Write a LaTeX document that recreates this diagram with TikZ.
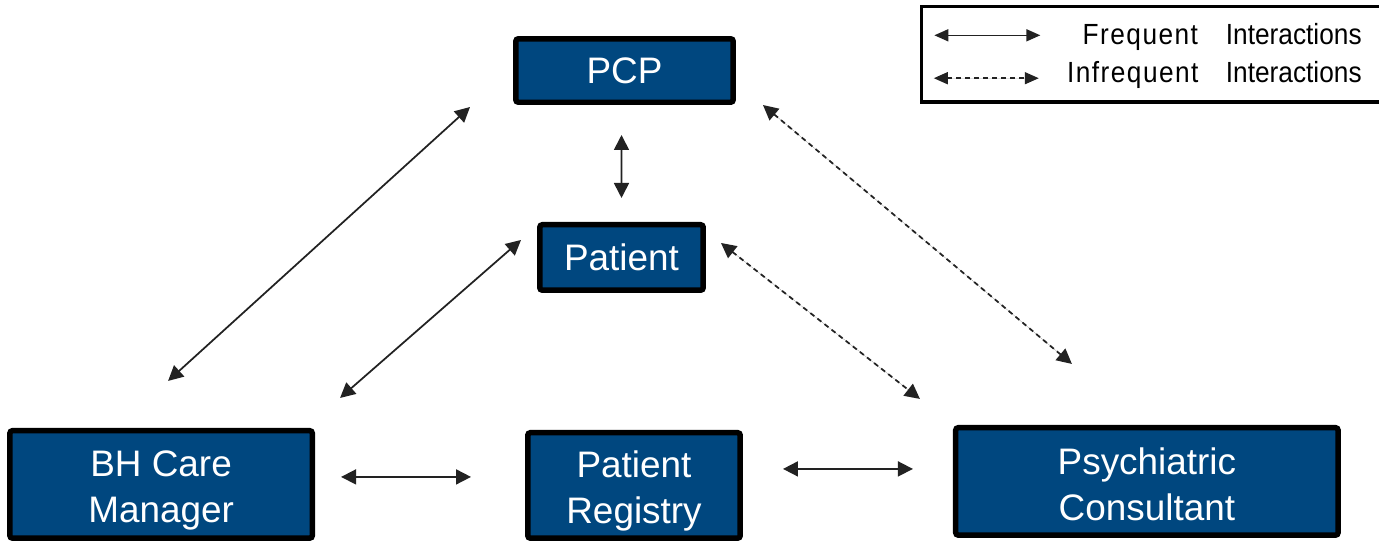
\documentclass[tikz,border=0pt]{standalone}
\usepackage{fontspec}
\setmainfont{Liberation Sans}
\newfontfamily\ketfont[FakeStretch=0.9]{Liberation Sans}
\newfontfamily\ketlebar[FakeStretch=0.9, LetterSpace=5]{Liberation Sans}
\usepackage{xcolor}
\usetikzlibrary{arrows.meta, positioning, calc}
\definecolor{biruTua}{RGB}{0,71,127}
\definecolor{hitam}{RGB}{34,34,34}

\begin{document}
\begin{tikzpicture}[
    x=0.02cm, y=-0.02cm,
    node distance=2.34cm and 4.2cm,
    kotak/.style={draw=black, fill=biruTua, line width=0.11cm, rounded corners=1.5pt,
                  align=center, text=white, inner sep=0pt, font=\fontsize{21}{26}\selectfont},
    panah/.style={{Triangle[length=0.3cm, width=0.3cm]}-{Triangle[length=0.3cm, width=0.3cm]},
                  line width=0.035cm, draw=hitam, fill=hitam},
    putus/.style={panah, dash pattern=on 0.1cm off 0.08cm},
    contoh/.style={{Triangle[length=0.28cm, width=0.24cm]}-{Triangle[length=0.28cm, width=0.24cm]},
                  line width=0.032cm, draw=hitam, fill=hitam},
    ket/.style={font=\ketfont\fontsize{16.6}{20}\selectfont, inner sep=0pt, anchor=base east}
  ]
    \useasboundingbox (0,0) rectangle (1379,542);

    % kotak peran
    \node[kotak, minimum width=4.35cm, minimum height=1.27cm] (pcp) at (624.5,70.5) {PCP};
    \node[kotak, minimum width=3.27cm, minimum height=1.31cm, below=of pcp, xshift=-0.06cm] (pasien) {Patient};
    \node[kotak, minimum width=4.25cm, minimum height=2.11cm, below=2.74cm of pasien, xshift=0.25cm] (registri) {\rule{0pt}{0.75cm}Patient\\Registry};
    \node[kotak, minimum width=6.05cm, minimum height=2.15cm, left=of registri, yshift=0.02cm] (bh) {\rule{0pt}{0.76cm}BH Care\\Manager};
    \node[kotak, minimum width=7.65cm, minimum height=2.15cm, right=of registri, yshift=0.08cm] (psikiater) {\rule{0pt}{0.65cm}Psychiatric\\Consultant};

    % interaksi
    \draw[panah] ([shift={(7,-47)}]bh.north) -- ([shift={(-43,2)}]pcp.south west);
    \draw[panah] ([shift={(25,-30)}]bh.north east) -- ([shift={(-16,18)}]pasien.north west);
    \draw[panah] ([shift={(-3,30)}]pcp.south) -- ([shift={(0,-24)}]pasien.north);
    \draw[putus] ([shift={(27,0)}]pcp.south east) -- ([shift={(-75,-61)}]psikiater.north);
    \draw[putus] ([shift={(15,21)}]pasien.north east) -- ([shift={(-33,-26)}]psikiater.north west);
    \draw[panah] ([shift={(26,-7.5)}]bh.east) -- ([shift={(-54,-8.5)}]registri.west);
    \draw[panah] ([shift={(40,-16.5)}]registri.east) -- ([shift={(-40,-12.5)}]psikiater.west);

    % keterangan
    \draw[line width=0.066cm] (921.5,6.5) rectangle (1390,102);
    \node[ket] (ketsering) at (1362,44.3) {{\ketlebar Frequent}\hspace{0.56cm}Interactions};
    \node[ket] (ketjarang) at (1362,82.7) {{\ketlebar Infrequent}\hspace{0.55cm}Interactions};
    \draw[contoh] ([shift={(-148,-9)}]ketsering.base west) -- ([shift={(-42,-9)}]ketsering.base west);
    \draw[contoh, dash pattern=on 0.1cm off 0.08cm] ([shift={(-133,-4.5)}]ketjarang.base west) -- ([shift={(-28,-4.5)}]ketjarang.base west);
  \end{tikzpicture}
\end{document}
